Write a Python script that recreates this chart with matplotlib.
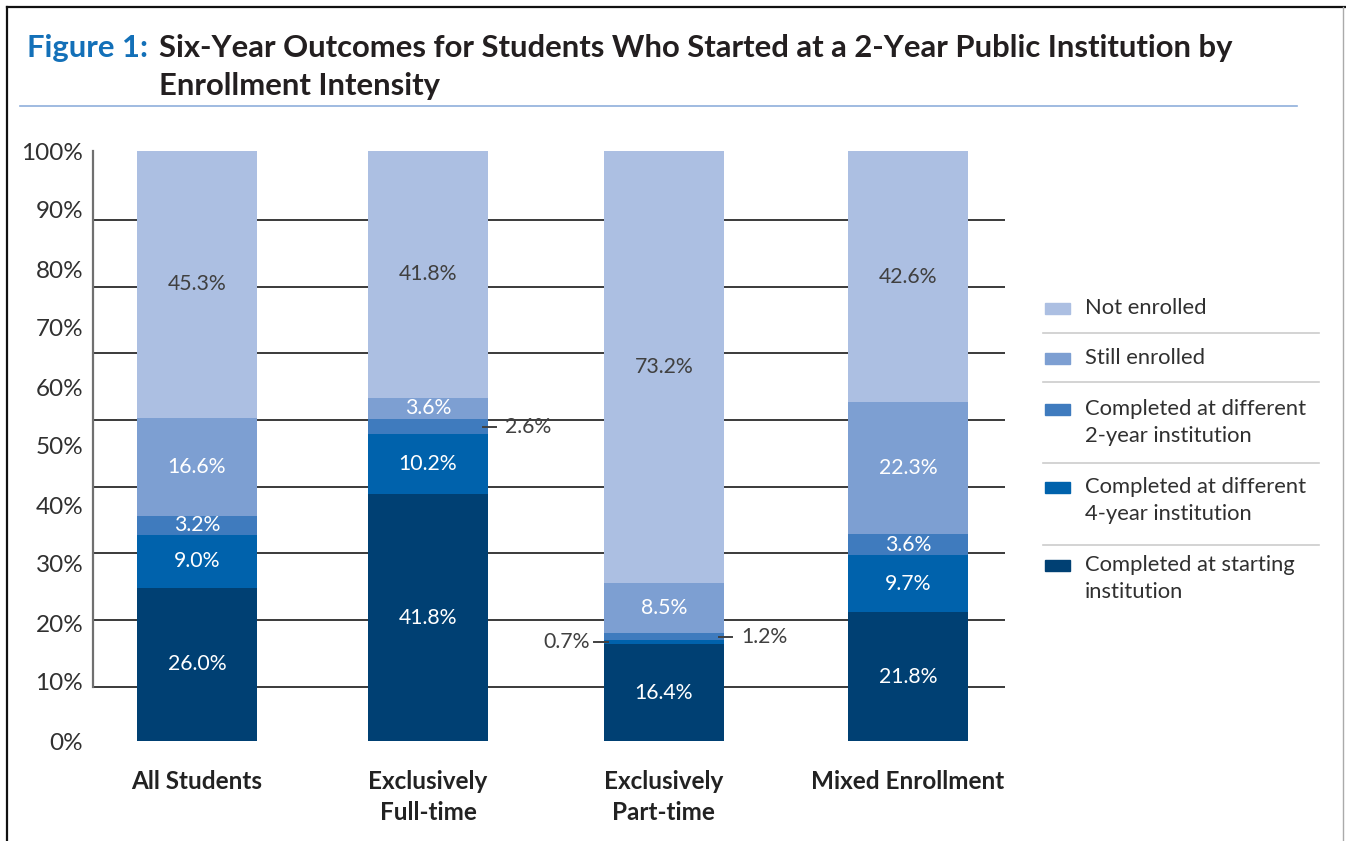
import matplotlib
matplotlib.use("Agg")
import matplotlib.pyplot as plt
from matplotlib.patches import Rectangle
from matplotlib.lines import Line2D
import numpy as np

plt.rcParams['font.family'] = ['Lato', 'DejaVu Sans']

# six-year outcome shares (%) per enrollment group
groups = ['All Students', 'Exclusively\nFull-time', 'Exclusively\nPart-time', 'Mixed Enrollment']
starting = [26.0, 41.8, 16.4, 21.8]
diff_4yr = [9.0, 10.2, 0.7, 9.7]
diff_2yr = [3.2, 2.6, 1.2, 3.6]
still_enr = [16.6, 3.6, 8.5, 22.3]
not_enr = [45.3, 41.8, 73.2, 42.6]

series_names = ['Completed at starting\ninstitution',
                'Completed at different\n4-year institution',
                'Completed at different\n2-year institution',
                'Still enrolled',
                'Not enrolled']
colors = ['#004073', '#0062AC', '#3F7BBE', '#7D9FD2', '#ACBFE2']
ytick_vals = [0, 10, 20, 30, 40, 50, 60, 70, 80, 90, 100]

W, H = 1346, 841
def fx(px):
    return px / W
def fy(py):
    return 1 - py / H

fig = plt.figure(figsize=(W / 100, H / 100), dpi=100)
ax = fig.add_axes([fx(93), fy(741), fx(1005) - fx(93), fy(151) - fy(741)])

pxu = 237.0  # pixels per category step
x = np.array([0, 0.975, 1.97, 3.0])
bw = 120 / pxu
data = [starting, diff_4yr, diff_2yr, still_enr, not_enr]

# horizontal rules (the original sheet spaces them on its own grid)
grid_levels = [9.16 + 11.31 * k for k in range(8)]
for g in grid_levels:
    ax.axhline(g, color='#3a3a3a', lw=1.4, zorder=1)

lab_fs = 15.3
bottom = np.zeros(len(groups))
for si, vals in enumerate(data):
    vals = np.array(vals)
    ax.bar(x, vals, bw, bottom=bottom, color=colors[si], zorder=2, linewidth=0)
    for gi in range(len(groups)):
        v = vals[gi]
        yc = bottom[gi] + v / 2
        lab = f'{v:.1f}%'
        if v >= 3:
            tc = '#404040' if si == 4 else 'white'
            ax.text(x[gi], yc, lab, ha='center', va='center', color=tc,
                    fontsize=lab_fs, zorder=3)
        else:
            side = 'left' if (gi, si) == (2, 1) else 'right'
            if side == 'right':
                edge = x[gi] + bw / 2
                ax.plot([edge - 5 / pxu, edge + 8 / pxu], [yc, yc], color='#404040',
                        lw=1.4, zorder=3, clip_on=False)
                ax.text(edge + 17 / pxu, yc, lab, ha='left', va='center',
                        color='#404040', fontsize=lab_fs)
            else:
                edge = x[gi] - bw / 2
                ax.plot([edge + 4 / pxu, edge - 10 / pxu], [yc, yc], color='#404040',
                        lw=1.4, zorder=3, clip_on=False)
                ax.text(edge - 14 / pxu, yc, lab, ha='right', va='center',
                        color='#404040', fontsize=lab_fs)
    bottom += vals

ax.set_ylim(0, 100)
ax.set_xlim(-104 / pxu, 3 + 97 / pxu)
ax.set_yticks(ytick_vals)
ax.set_yticklabels([f'{v}%' for v in ytick_vals], fontsize=17.5, color='#303030')
ax.set_xticks(x)
ax.set_xticklabels(groups, fontsize=17.5, fontweight='bold', color='#222222',
                   linespacing=1.42)
ax.tick_params(axis='y', length=0, pad=7)
ax.tick_params(axis='x', length=0, pad=21)
for s in ['top', 'right', 'bottom']:
    ax.spines[s].set_visible(False)
ax.spines['left'].set_bounds(grid_levels[0], 100)
ax.spines['left'].set_color('#707070')
ax.spines['left'].set_linewidth(1.6)

# legend with separators, top entry is the top segment
leg_y = [308, 358, 409, 487, 565]
for i, name in enumerate(reversed(series_names)):
    col = list(reversed(colors))[i]
    y0 = leg_y[i]
    fig.add_artist(Rectangle((fx(1045), fy(y0 + 5.5)), fx(1070) - fx(1045),
                             11 / H, color=col, transform=fig.transFigure))
    for li, line in enumerate(name.split('\n')):
        fig.text(fx(1085), fy(y0 + 27 * li), line, fontsize=15.8, color='#303030',
                 ha='left', va='center')
for sy in [333, 381.5, 463, 545]:
    fig.add_artist(Line2D([fx(1043), fx(1319)], [fy(sy), fy(sy)], color='#cccccc',
                          lw=1.2, transform=fig.transFigure))

# title block
title_fs = 22.3
fig.text(fx(27), fy(57), 'Figure 1:', fontsize=title_fs, fontweight='bold',
         color='#1370B8', ha='left', va='baseline')
fig.text(fx(159), fy(57), 'Six-Year Outcomes for Students Who Started at a 2-Year Public Institution by',
         fontsize=title_fs, fontweight='bold', color='#231F20', ha='left', va='baseline')
fig.text(fx(159), fy(94.5), 'Enrollment Intensity', fontsize=title_fs, fontweight='bold',
         color='#231F20', ha='left', va='baseline')
fig.add_artist(Line2D([fx(20), fx(1297)], [fy(106), fy(106)], color='#8FAFDC',
                      lw=1.2, transform=fig.transFigure))

# page frame
fig.add_artist(Line2D([fx(7), fx(7)], [fy(7), 0], color='#111111', lw=1.6,
                      transform=fig.transFigure))
fig.add_artist(Line2D([fx(7), 1], [fy(7), fy(7)], color='#111111', lw=1.6,
                      transform=fig.transFigure))
fig.add_artist(Line2D([fx(1343), fx(1343)], [fy(7), 0], color='#aaaaaa', lw=1.0,
                      transform=fig.transFigure))

fig.savefig('out.png', dpi=100)
